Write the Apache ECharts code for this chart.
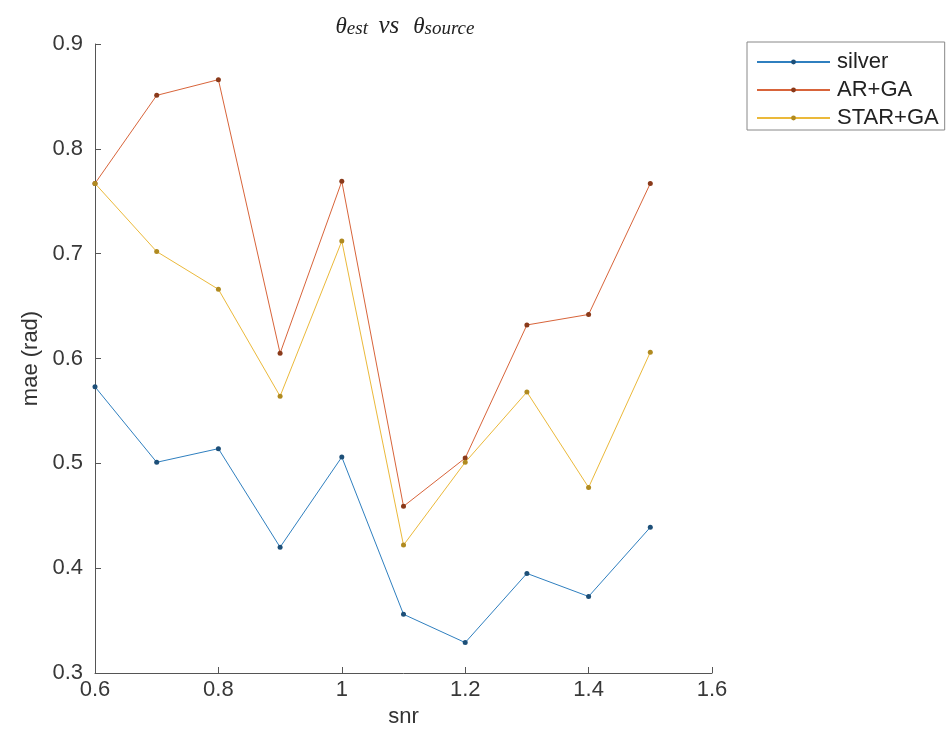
<!DOCTYPE html>
<html><head><meta charset="utf-8">
<script src="https://cdn.jsdelivr.net/npm/echarts@6/dist/echarts.min.js"></script>
<style>html,body{margin:0;padding:0;background:#fff}#c{width:949px;height:750px}</style>
</head><body><div id="c"></div>
<script>
const snr = [0.6, 0.7, 0.8, 0.9, 1.0, 1.1, 1.2, 1.3, 1.4, 1.5];
const silver = [0.573, 0.501, 0.514, 0.420, 0.506, 0.356, 0.329, 0.395, 0.373, 0.439];
const arGA = [0.767, 0.851, 0.866, 0.605, 0.769, 0.459, 0.505, 0.632, 0.642, 0.767];
const starGA = [0.767, 0.702, 0.666, 0.564, 0.712, 0.422, 0.501, 0.568, 0.477, 0.606];
const seriesNames = ['silver', 'AR+GA', 'STAR+GA'];
const seriesValues = [silver, arGA, starGA];
const colors = ['#2f7fbf', '#d8643a', '#ebb93a'];
const markerColors = ['#1d4f78', '#8a3a1a', '#b08a20'];

const FONT = "'Liberation Sans', Arial, Helvetica, sans-serif";
const SERIF = "'Liberation Serif', 'DejaVu Serif', serif";
const chart = echarts.init(document.getElementById('c'));

const series = seriesNames.map((name, i) => ({
  name: name,
  type: 'line',
  data: snr.map((x, j) => [x, seriesValues[i][j]]),
  symbol: 'circle',
  symbolSize: 5,
  showSymbol: true,
  lineStyle: { color: colors[i], width: 1 },
  itemStyle: { color: markerColors[i], borderWidth: 0 },
  emphasis: { disabled: true },
  animation: false,
  z: 2 + i
}));

chart.setOption({
  backgroundColor: '#fff',
  animation: false,
  grid: { left: 95, right: 237, top: 44, bottom: 77, containLabel: false },
  xAxis: {
    type: 'value', min: 0.6, max: 1.6, interval: 0.2,
    name: 'snr', nameLocation: 'middle', nameGap: 31,
    nameTextStyle: { fontFamily: FONT, fontSize: 22, color: '#333' },
    axisLine: { show: true, onZero: false, lineStyle: { color: '#555', width: 1 } },
    axisTick: { show: true, inside: true, length: 6, lineStyle: { color: '#555' } },
    axisLabel: { fontFamily: FONT, fontSize: 22, color: '#383838', margin: 6,
      formatter: v => String(Math.round(v * 10) / 10) },
    splitLine: { show: false }
  },
  yAxis: {
    type: 'value', min: 0.3, max: 0.9, interval: 0.1,
    name: 'mae (rad)', nameLocation: 'middle', nameGap: 42, nameRotate: 90,
    nameTextStyle: { fontFamily: FONT, fontSize: 22, color: '#333' },
    axisLine: { show: true, onZero: false, lineStyle: { color: '#555', width: 1 } },
    axisTick: { show: true, inside: true, length: 6, lineStyle: { color: '#555' } },
    axisLabel: { fontFamily: FONT, fontSize: 22, color: '#383838', margin: 12,
      formatter: v => (Math.round(v * 10) / 10).toFixed(1) },
    splitLine: { show: false }
  },
  legend: {
    data: seriesNames,
    orient: 'vertical',
    left: 747, top: 42,
    padding: [9, 6, 1, 9],
    itemWidth: 73, itemHeight: 6, itemGap: 6,
    borderColor: '#888', borderWidth: 1,
    backgroundColor: '#fff',
    textStyle: { fontFamily: FONT, fontSize: 22, color: '#222', lineHeight: 22, padding: [0, 0, 0, 2] }
  },
  graphic: [{
    type: 'text',
    x: 405, y: 26,
    style: {
      text: '{m|θ}{s|est}{g|   }{v|vs}{g|    }{m|θ}{s|source}',
      align: 'center', verticalAlign: 'middle',
      fill: '#222',
      rich: {
        m: { fontFamily: SERIF, fontStyle: 'italic', fontSize: 23, lineHeight: 25, verticalAlign: 'bottom', fill: '#222' },
        v: { fontFamily: SERIF, fontStyle: 'italic', fontSize: 25, lineHeight: 25, verticalAlign: 'bottom', fill: '#222' },
        g: { fontFamily: SERIF, fontSize: 14, lineHeight: 25, verticalAlign: 'bottom' },
        s: { fontFamily: SERIF, fontStyle: 'italic', fontSize: 19, lineHeight: 20, verticalAlign: 'bottom', fill: '#222' }
      }
    }
  }],
  series: series
});
</script></body></html>
